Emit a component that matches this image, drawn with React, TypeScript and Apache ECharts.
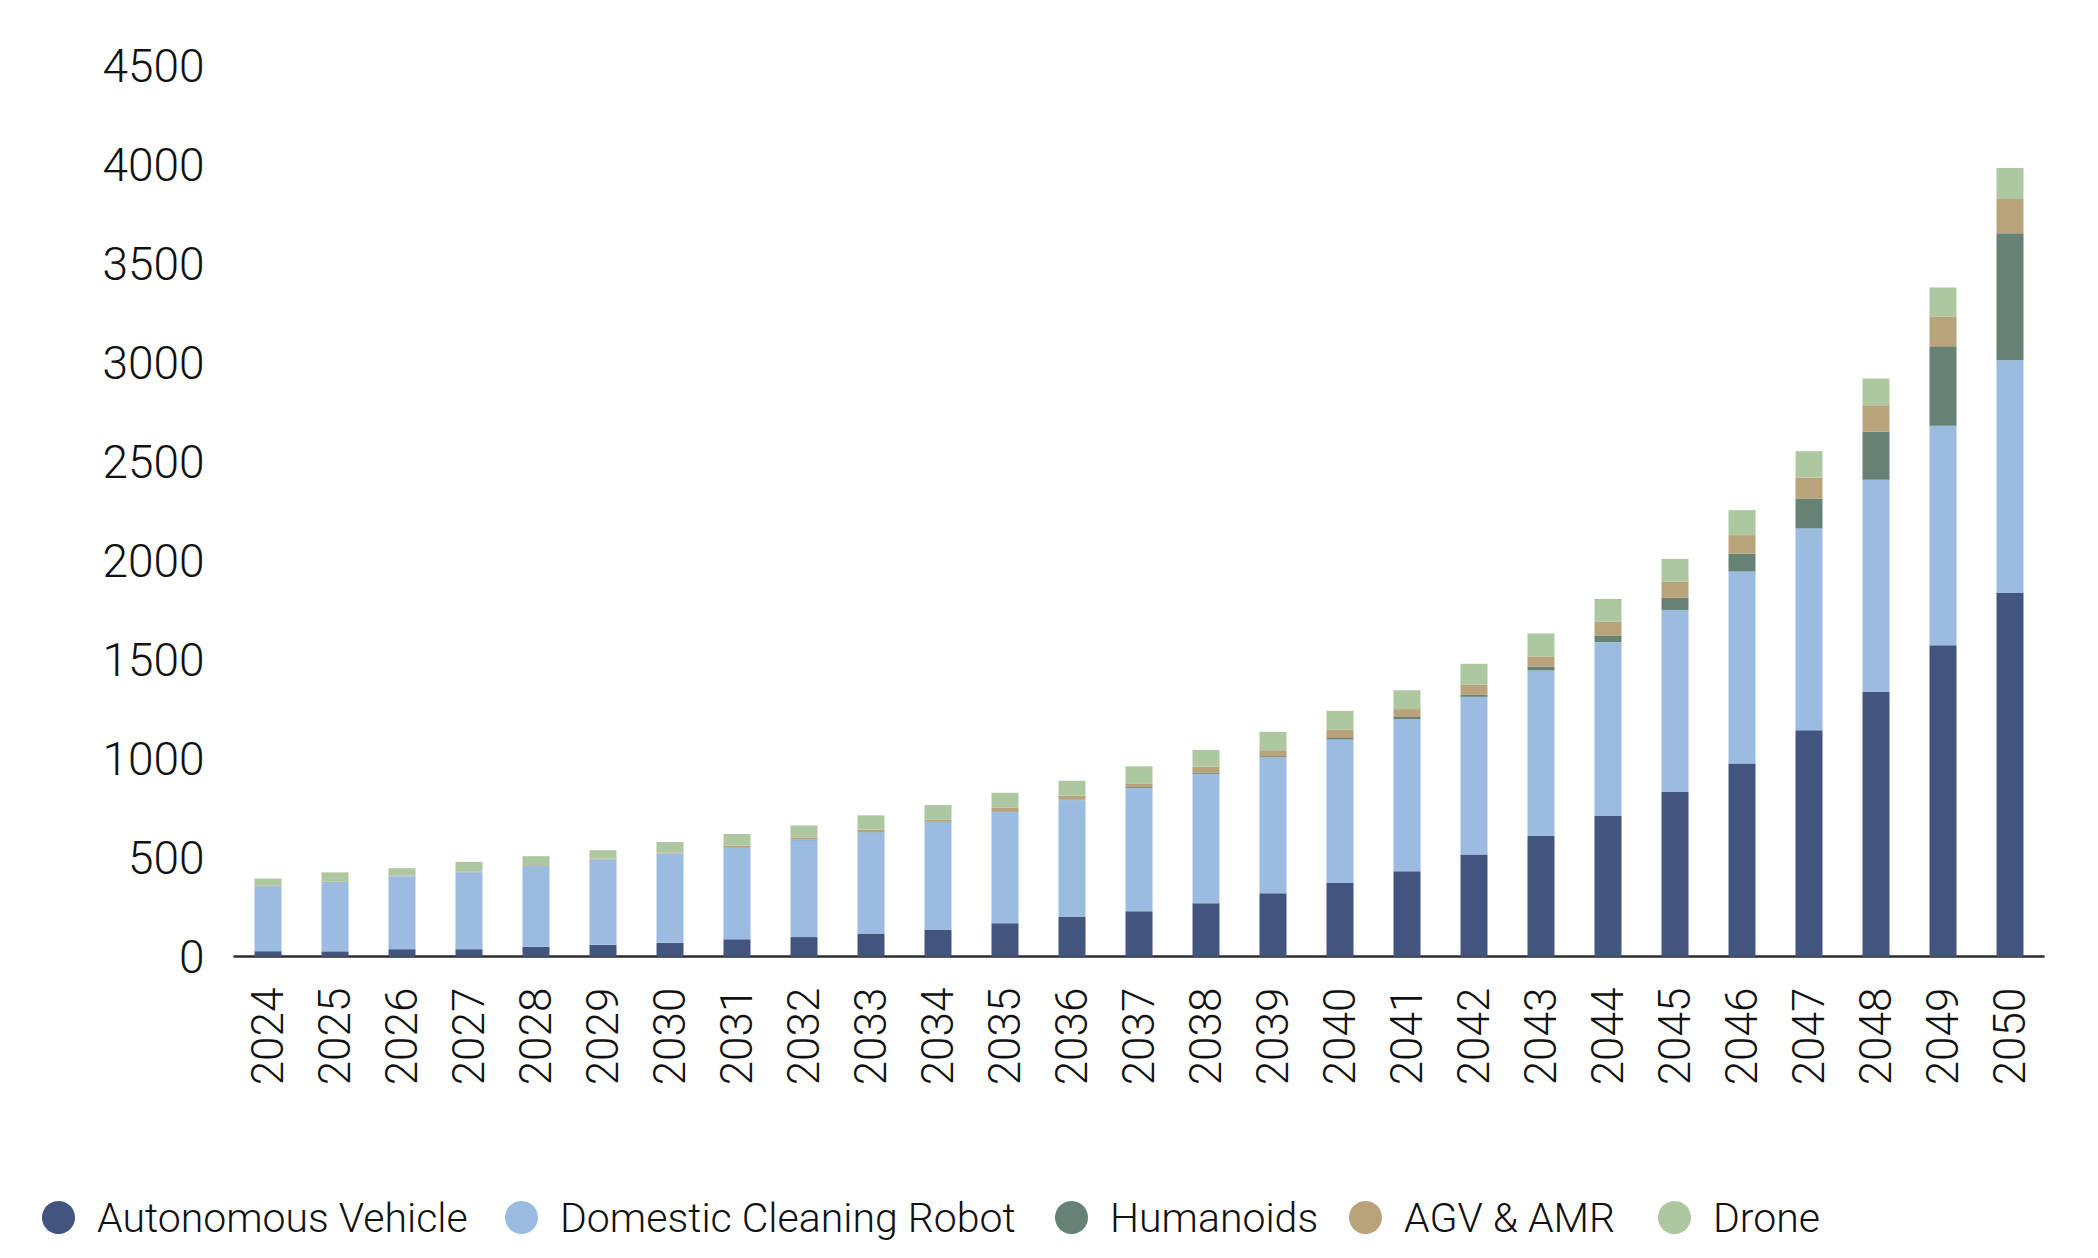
import React, { useEffect, useRef } from "react";
import * as echarts from "echarts";

const years = ["2024","2025","2026","2027","2028","2029","2030","2031","2032","2033","2034","2035","2036","2037","2038","2039","2040","2041","2042","2043","2044","2045","2046","2047","2048","2049","2050"];
const autonomousVehicle = [28,27,38,38,50,60,70,88,99,117,137,169,200,230,270,321,372,432,516,610,711,832,976,1144,1339,1574,1837];
const domesticCleaningRobot = [328,350,369,389,408,431,452,461,490,511,543,562,591,623,654,686,726,769,797,836,878,920,970,1020,1071,1109,1176];
const humanoids = [0,0,0,0,0,0,0,1,2,2,2,3,3,4,5,6,7,10,10,20,32,61,91,151,244,401,642];
const agvAmr = [3,3,3,3,4,4,5,11,12,12,10,20,20,19,31,30,42,40,51,51,71,83,93,106,132,151,173];
const drone = [36,46,37,49,46,43,52,59,60,72,74,74,75,86,84,93,95,95,106,116,116,114,126,133,135,146,157];
const yTicks = { min: 0, max: 4500, interval: 500 };

const seriesDefs = [
  { name: "Autonomous Vehicle", data: autonomousVehicle, color: "#42557F", legendLeft: 37 },
  { name: "Domestic Cleaning Robot", data: domesticCleaningRobot, color: "#9BBBE0", legendLeft: 500 },
  { name: "Humanoids", data: humanoids, color: "#658275", legendLeft: 1050 },
  { name: "AGV & AMR", data: agvAmr, color: "#B9A37A", legendLeft: 1344 },
  { name: "Drone", data: drone, color: "#ADC7A1", legendLeft: 1653 },
];

const FONT = "Roboto, 'Noto Sans', sans-serif";

export default function App() {
  const ref = useRef<HTMLDivElement>(null);
  useEffect(() => {
    if (!ref.current) return;
    const chart = echarts.init(ref.current, null, { renderer: "svg" });
    chart.setOption({
      animation: false,
      backgroundColor: "#ffffff",
      textStyle: { fontFamily: FONT },
      grid: { left: 234.5, right: 54.5, top: 66, bottom: 301.3, containLabel: false },
      legend: seriesDefs.map((s) => ({
        data: [s.name],
        left: s.legendLeft,
        top: 1192,
        icon: "circle",
        itemWidth: 33,
        itemHeight: 33,
        selectedMode: false,
        textStyle: {
          fontFamily: FONT,
          fontSize: 41,
          fontWeight: 300,
          color: "#111111",
          lineHeight: 33,
          padding: [0, 0, 0, 17],
        },
      })),
      xAxis: {
        type: "category",
        data: years,
        axisTick: { show: false },
        axisLine: { show: true, lineStyle: { color: "#2b2b2b", width: 2.5 } },
        axisLabel: {
          rotate: 90,
          interval: 0,
          margin: 31,
          fontSize: 44,
          fontWeight: 300,
          fontFamily: FONT,
          color: "#111111",
        },
      },
      yAxis: {
        type: "value",
        min: yTicks.min,
        max: yTicks.max,
        interval: yTicks.interval,
        splitLine: { show: false },
        axisLine: { show: false },
        axisTick: { show: false },
        axisLabel: {
          margin: 30,
          fontSize: 46,
          fontWeight: 300,
          fontFamily: FONT,
          color: "#111111",
          formatter: (v: number) => String(v),
        },
      },
      series: seriesDefs.map((s) => ({
        name: s.name,
        type: "bar",
        stack: "total",
        barWidth: 27,
        data: s.data,
        itemStyle: { color: s.color },
      })),
    });
    return () => chart.dispose();
  }, []);
  return (
    <div
      ref={ref}
      style={{ position: "absolute", left: 0, top: 0, width: 2098, height: 1258 }}
    />
  );
}
